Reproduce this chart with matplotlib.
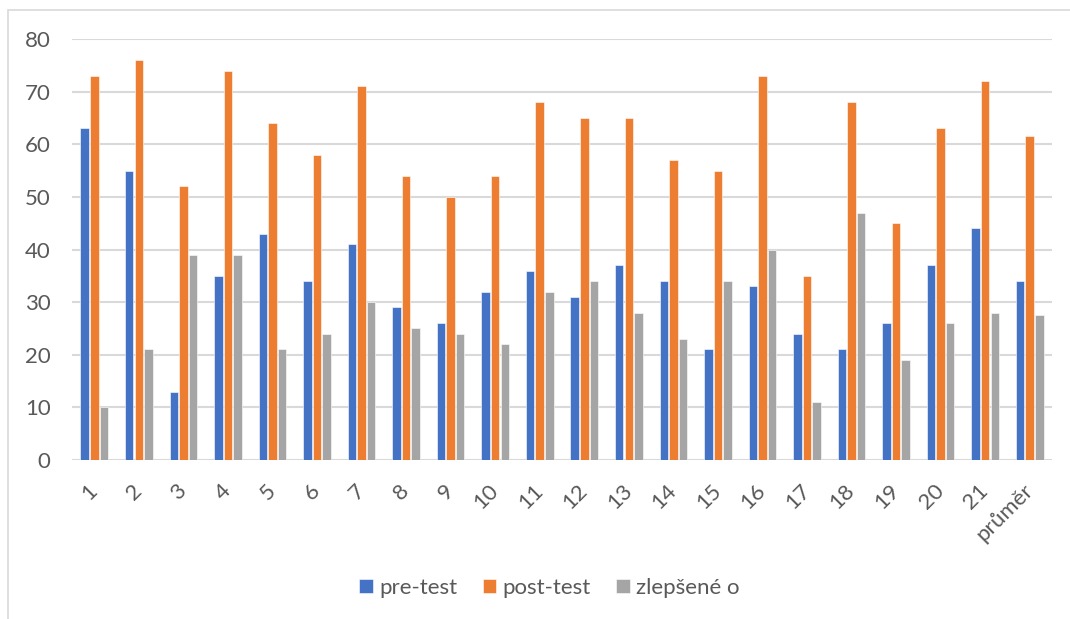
import matplotlib
matplotlib.use("Agg")
import matplotlib.pyplot as plt
import numpy as np
from matplotlib.patches import Rectangle

categories = [str(i) for i in range(1, 22)] + ["průměr"]
pre_test = [63, 55, 13, 35, 43, 34, 41, 29, 26, 32, 36, 31, 37, 34, 21, 33, 24, 21, 26, 37, 44, 34.0]
post_test = [73, 76, 52, 74, 64, 58, 71, 54, 50, 54, 68, 65, 65, 57, 55, 73, 35, 68, 45, 63, 72, 61.5]
zlepsene = [10, 21, 39, 39, 21, 24, 30, 25, 24, 22, 32, 34, 28, 23, 34, 40, 11, 47, 19, 26, 28, 27.5]
series_names = ["pre-test", "post-test", "zlepšené o"]
colors = ["#4472C4", "#ED7D31", "#A5A5A5"]
yticks = [0, 10, 20, 30, 40, 50, 60, 70, 80]

plt.rcParams['font.family'] = ['Lato', 'DejaVu Sans']
txt = "#595959"

fig = plt.figure(figsize=(10.7, 6.19), dpi=100)
ax = fig.add_axes([72/1070, 1-460/619, 980/1070, 421/619])

x = np.arange(len(categories))
w = 0.19
step = 0.215
for i, (vals, name, c) in enumerate(zip([pre_test, post_test, zlepsene], series_names, colors)):
    ax.bar(x + (i-1)*step, vals, width=w, color=c, label=name, edgecolor="white", linewidth=0.4, zorder=3)

ax.set_xlim(-0.5, len(categories)-0.5)
ax.set_ylim(0, 80)
ax.set_yticks(yticks)
ax.yaxis.grid(True, color="#d9d9d9", linewidth=1.5, zorder=0)
for s in ax.spines.values():
    s.set_visible(False)
ax.tick_params(axis='y', length=0, labelsize=16, colors=txt, pad=15.5)
ax.set_xticks(x)
ax.set_xticklabels(categories, rotation=45, ha='right', va='center', rotation_mode='anchor')
ax.tick_params(axis='x', length=0, labelsize=16, colors=txt, pad=20)

fig.legend(loc='center', bbox_to_anchor=(549.5/1070, 1-588/619), ncol=3, frameon=False,
           fontsize=16, labelcolor=txt, handlelength=0.62, handleheight=0.62,
           columnspacing=1.15, handletextpad=0.28)

fig.patches.append(Rectangle((8/1070, -0.05), 1.2, 1-10/619+0.05, transform=fig.transFigure,
                             fill=False, edgecolor="#d9d9d9", linewidth=1.2))

fig.savefig("out.png", dpi=100)
